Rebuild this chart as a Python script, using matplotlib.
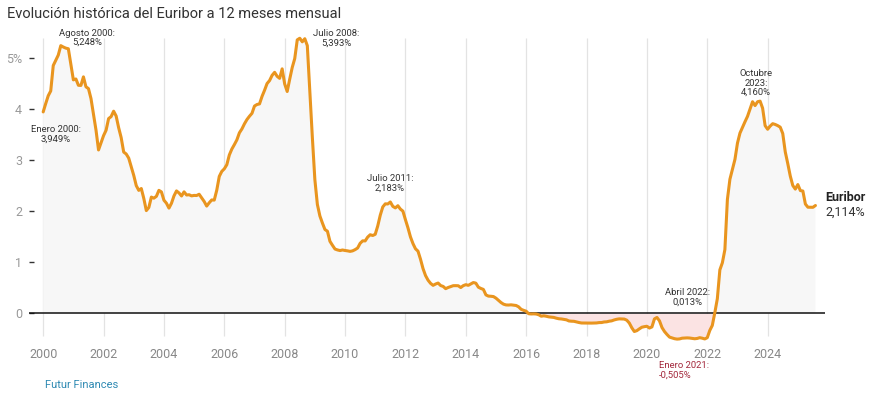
import matplotlib
matplotlib.use("Agg")
import matplotlib.pyplot as plt
import numpy as np

# Euribor 12 meses, media mensual (%), desde enero de 2000
euribor_2000s = [
    3.949, 4.111, 4.265, 4.360, 4.858, 4.961, 5.063, 5.248, 5.221, 5.199, 5.187, 4.880,
    4.577, 4.595, 4.471, 4.468, 4.636, 4.441, 4.406, 4.211, 3.894, 3.591, 3.203, 3.342,
    3.484, 3.589, 3.818, 3.857, 3.963, 3.869, 3.639, 3.445, 3.162, 3.124, 3.043, 2.872,
    2.705, 2.504, 2.411, 2.447, 2.252, 2.014, 2.076, 2.279, 2.258, 2.294, 2.411, 2.381,
    2.218, 2.159, 2.063, 2.158, 2.303, 2.400, 2.360, 2.301, 2.382, 2.320, 2.325, 2.303,
    2.312, 2.310, 2.335, 2.265, 2.193, 2.103, 2.168, 2.223, 2.220, 2.414, 2.684, 2.783,
    2.833, 2.914, 3.105, 3.221, 3.308, 3.401, 3.539, 3.615, 3.715, 3.799, 3.864, 3.921,
    4.064, 4.094, 4.106, 4.253, 4.373, 4.505, 4.564, 4.666, 4.725, 4.647, 4.607, 4.793,
    4.498, 4.349, 4.590, 4.820, 4.994, 5.361, 5.393, 5.323, 5.384, 5.248, 4.350, 3.452,
    2.622, 2.135, 1.909, 1.771, 1.644, 1.610, 1.412, 1.334, 1.261, 1.243, 1.231, 1.242,
]
euribor_2010s = [
    1.232, 1.225, 1.215, 1.225, 1.249, 1.281, 1.373, 1.421, 1.420, 1.495, 1.541, 1.526,
    1.550, 1.714, 1.924, 2.086, 2.147, 2.144, 2.183, 2.097, 2.067, 2.110, 2.044, 2.004,
    1.837, 1.678, 1.499, 1.368, 1.266, 1.219, 1.061, 0.877, 0.740, 0.650, 0.588, 0.549,
    0.575, 0.594, 0.545, 0.528, 0.484, 0.507, 0.525, 0.542, 0.543, 0.541, 0.506, 0.543,
    0.562, 0.549, 0.577, 0.604, 0.592, 0.513, 0.488, 0.469, 0.362, 0.338, 0.335, 0.329,
    0.298, 0.255, 0.212, 0.180, 0.165, 0.163, 0.167, 0.161, 0.154, 0.128, 0.079, 0.059,
    0.042, -0.008, -0.012, -0.010, -0.013, -0.028, -0.056, -0.048, -0.057, -0.069, -0.074, -0.080,
    -0.095, -0.106, -0.110, -0.119, -0.127, -0.149, -0.154, -0.156, -0.168, -0.180, -0.189, -0.190,
    -0.189, -0.191, -0.191, -0.190, -0.188, -0.181, -0.180, -0.169, -0.166, -0.154, -0.147, -0.129,
    -0.116, -0.108, -0.109, -0.112, -0.134, -0.190, -0.283, -0.356, -0.339, -0.304, -0.272, -0.261,
]
euribor_2020s = [
    -0.253, -0.288, -0.266, -0.108, -0.081, -0.147, -0.279, -0.357, -0.415, -0.466, -0.481, -0.497,
    -0.505, -0.501, -0.487, -0.484, -0.481, -0.484, -0.491, -0.498, -0.492, -0.477, -0.487, -0.502,
    -0.477, -0.335, -0.237, 0.013, 0.287, 0.852, 0.992, 1.249, 2.233, 2.629, 2.828, 3.018,
    3.337, 3.534, 3.647, 3.757, 3.862, 4.007, 4.149, 4.073, 4.149, 4.160, 4.022, 3.679,
    3.609, 3.671, 3.718, 3.703, 3.680, 3.650, 3.526, 3.166, 2.936, 2.691, 2.506, 2.436,
    2.525, 2.407, 2.398, 2.143, 2.081, 2.081, 2.079, 2.114,
]

values = np.array(euribor_2000s + euribor_2010s + euribor_2020s)
dates = 2000 + np.arange(len(values)) / 12.0

x_ticks = [2000, 2002, 2004, 2006, 2008, 2010, 2012, 2014, 2016, 2018, 2020, 2022, 2024]
y_ticks = [0, 1, 2, 3, 4, 5]
y_ticklabels = ["0", "1", "2", "3", "4", "5%"]

# (texto, x, y, alineación, color)
annotations = [
    ("Enero 2000:\n3,949%", 2000.42, 3.51, "center", "#333333"),
    ("Agosto 2000:\n5,248%", 2001.45, 5.40, "center", "#333333"),
    ("Julio 2008:\n5,393%", 2009.70, 5.39, "center", "#333333"),
    ("Julio 2011:\n2,183%", 2011.49, 2.55, "center", "#333333"),
    ("Abril 2022:\n0,013%", 2021.36, 0.32, "center", "#333333"),
    ("Enero 2021:\n-0,505%", 2020.40, -1.12, "left", "#a3283c"),
    ("Octubre\n2023:\n4,160%", 2023.61, 4.51, "center", "#333333"),
]

plt.rcParams['font.family'] = ['Roboto', 'DejaVu Sans']

line_color = '#e9951f'

fig = plt.figure(figsize=(8.93, 3.98), dpi=100)
ax = fig.add_axes([29 / 893, 0.1422, (825 - 29) / 893, 0.9048 - 0.1422])
ax.set_xlim(1999.53, 2025.9)
ax.set_ylim(-0.55, 5.4)

ax.vlines(x_ticks, -0.45, 5.4, color='#e3e3e3', lw=0.9, zorder=0)

ax.fill_between(dates, values, 0, where=values >= 0, interpolate=True,
                color='#f7f7f7', lw=0, zorder=1)
ax.fill_between(dates, values, 0, where=values <= 0, interpolate=True,
                color='#fbe3e3', lw=0, zorder=1)

ax.axhline(0, color='#111111', lw=1.1, zorder=2)
ax.plot(dates, values, color=line_color, lw=2.2, solid_capstyle='round',
        solid_joinstyle='round', zorder=3, clip_on=False)

for spine in ax.spines.values():
    spine.set_visible(False)

ax.set_xticks(x_ticks)
ax.set_xticklabels([str(t) for t in x_ticks])
ax.set_yticks(y_ticks)
ax.set_yticklabels(y_ticklabels)
ax.tick_params(axis='x', length=0, pad=5, labelsize=9, labelcolor='#888888')
ax.tick_params(axis='y', direction='in', length=3.5, width=1, color='#333333',
               pad=5, labelsize=9, labelcolor='#999999')

for text, x, y, ha, col in annotations:
    ax.text(x, y, text, ha=ha, va='center', fontsize=6.8, color=col,
            linespacing=1.05, zorder=5)

ax.text(2025.9 + 0.02, 2.28, "Euribor", fontsize=9, fontweight='bold',
        color='#222222', ha='left', va='center')
ax.text(2025.9 + 0.02, 1.98, "2,114%", fontsize=9, color='#333333',
        ha='left', va='center')

fig.text(7 / 893, 1 - 14 / 398, "Evolución histórica del Euribor a 12 meses mensual",
         fontsize=10.5, color='#333333', ha='left', va='center')
fig.text(45 / 893, 1 - 385 / 398, "Futur Finances", fontsize=8, color='#2f8ab3',
         ha='left', va='center')

fig.savefig('out.png', dpi=100)
